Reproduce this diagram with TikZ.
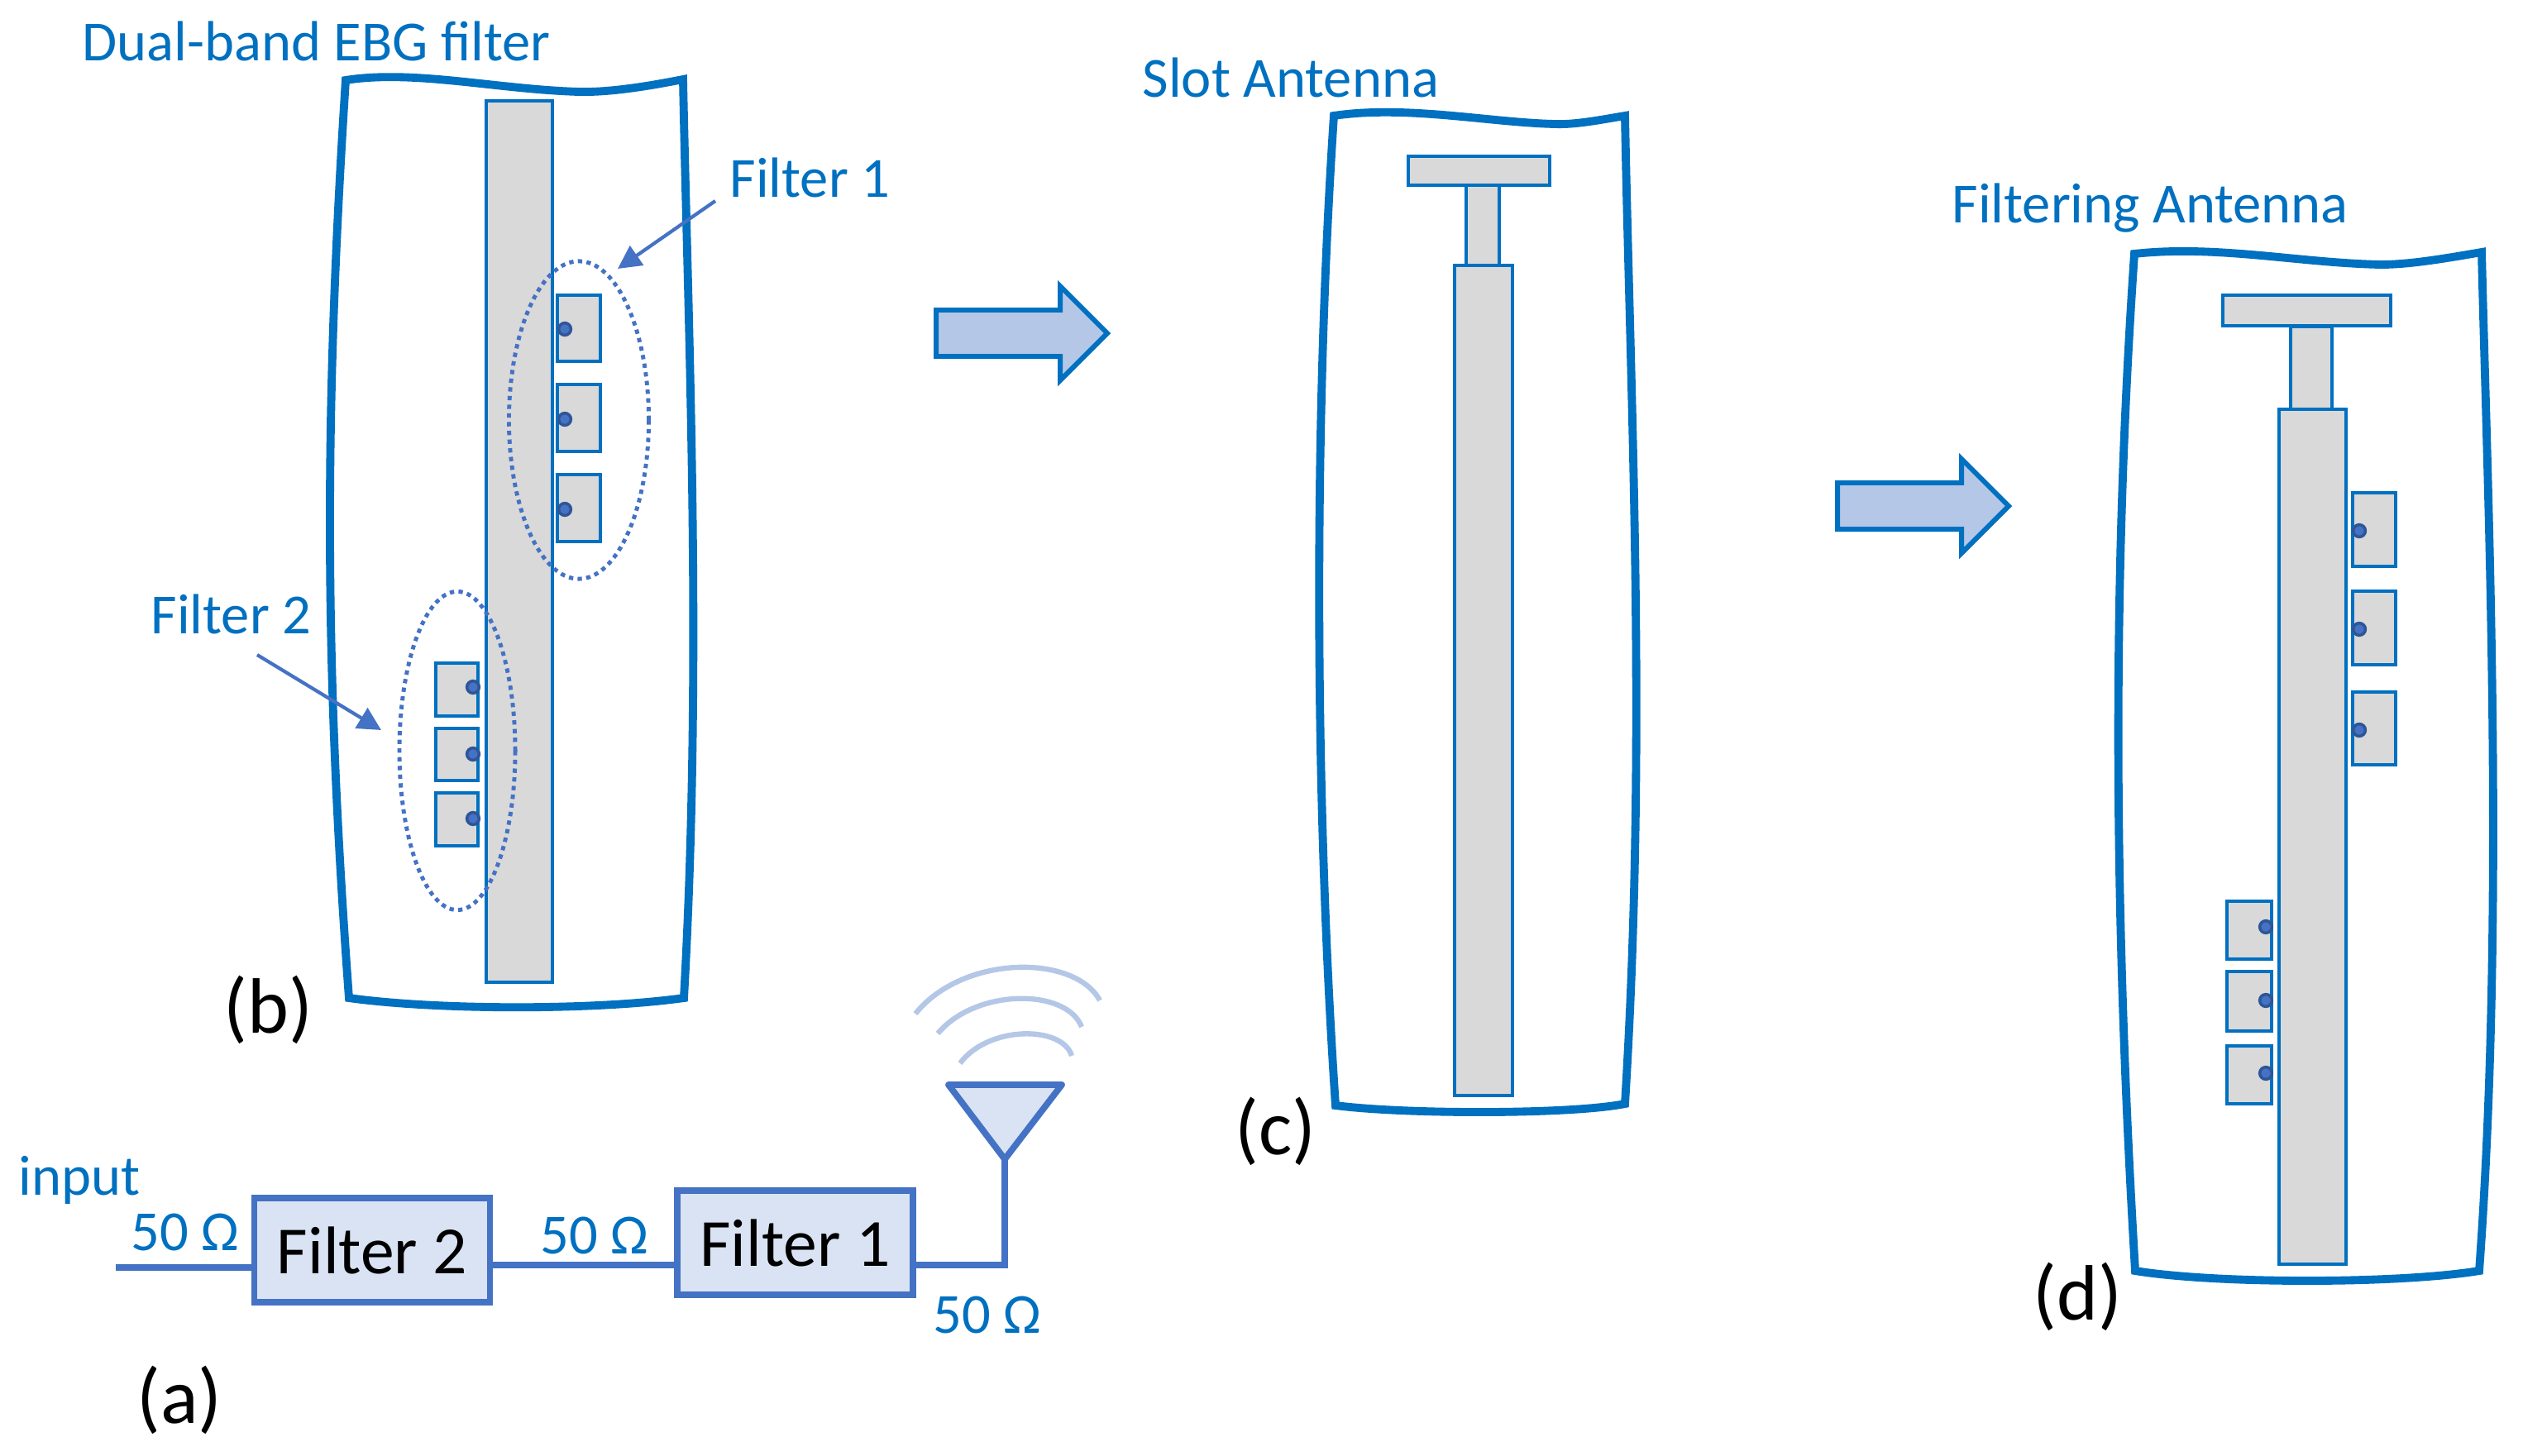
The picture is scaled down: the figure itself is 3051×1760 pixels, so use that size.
\documentclass[tikz,border=0pt]{standalone}
\usepackage{fontspec}
\setmainfont{Carlito}
\usetikzlibrary{arrows.meta,shapes.geometric,positioning}
\definecolor{edgeblue}{HTML}{0070C0}
\definecolor{wireblue}{HTML}{4472C4}
\definecolor{dotblue}{HTML}{2F5597}
\definecolor{boxfill}{HTML}{DAE3F3}
\definecolor{arrowfill}{HTML}{B4C7E7}
\definecolor{metal}{HTML}{D9D9D9}

\begin{document}
\begin{tikzpicture}[
    x=0.01cm, y=-0.01cm,
    board/.style={draw=edgeblue, line width=2.8pt, line join=miter},
    metalbox/.style={draw=edgeblue, fill=metal, line width=1.4pt},
    via/.style={circle, draw=dotblue, fill=wireblue, line width=1pt, inner sep=0pt, minimum size=4.2pt},
    ring/.style={draw=wireblue, ellipse, dash pattern=on 1.5pt off 1.5pt, line width=1.4pt, inner sep=0pt},
    callout/.style={-{Triangle[length=8pt,width=8pt]}, draw=wireblue, line width=1.2pt},
    bigarrow/.style={draw=edgeblue, fill=arrowfill, line width=1.7pt, miter limit=10},
    block/.style={draw=wireblue, fill=boxfill, line width=2.2pt, minimum width=2.85cm, minimum height=1.26cm, inner sep=0pt, font=\fontsize{23.2}{26}\selectfont},
    wire/.style={draw=wireblue, line width=2.5pt},
    wave/.style={draw=arrowfill, line width=1.8pt},
    lbl/.style={anchor=base west, inner sep=0pt, text=edgeblue, font=\fontsize{19.5}{22}\selectfont},
    tag/.style={anchor=base west, inner sep=0pt, font=\fontsize{27}{30}\selectfont}
]
\useasboundingbox (0,0) rectangle (3051,1760);

% (b) filter
\draw[board] (418,97) .. controls (500,84) and (600,108) .. (700,111) .. controls (740,112) and (790,103) .. (826,96)
    .. controls (832,400) and (850,800) .. (827,1207)
    .. controls (720,1222) and (530,1222) .. (422,1207)
    .. controls (392,800) and (392,500) .. (418,97) -- cycle;
\draw[metalbox] (588,122) rectangle (668,1188);
\foreach \ya/\yb/\yd in {357/437/398, 465/546/507, 574/655/616} {
    \draw[metalbox] (674,\ya) rectangle (726,\yb);
    \node[via] at (683,\yd) {};
}
\foreach \ya/\yb/\yd in {802/866/831, 881/944/912, 959/1023/990} {
    \draw[metalbox] (527,\ya) rectangle (578,\yb);
    \node[via] at (572,\yd) {};
}
\node[ring, minimum width=1.69cm, minimum height=3.84cm] (ringa) at (700,508) {};
\node[ring, minimum width=1.40cm, minimum height=3.85cm] (ringb) at (553,908) {};
\node[lbl] (title) at (99,73) {Dual-band EBG filter};
\node[lbl] (fa) at (882,238) {Filter 1};
\node[lbl] (fb) at (182,766) {Filter 2};
\coordinate (fatail) at (865,243);
\coordinate (fahead) at (747,325);
\coordinate (fbtail) at (311,792);
\coordinate (fbhead) at (461,883);
\draw[callout] (fatail) -- (fahead);
\draw[callout] (fbtail) -- (fbhead);
\node[tag] (tagb) at (270,1249) {(b)};

% arrows between the steps
\foreach \dx/\dy in {0/0, 1090/209} {
    \begin{scope}[shift={(\dx,\dy)}]
        \draw[bigarrow] (1132,375) -- (1282,375) -- (1282,346) -- (1339,403) -- (1282,460) -- (1282,431) -- (1132,431) -- cycle;
    \end{scope}
}

% (c) slot antenna
\draw[board] (1613,140) .. controls (1700,127) and (1800,148) .. (1880,150) .. controls (1905,151) and (1935,145) .. (1965,140)
    .. controls (1972,500) and (1992,900) .. (1965,1335)
    .. controls (1900,1348) and (1700,1348) .. (1615,1337)
    .. controls (1589,950) and (1589,500) .. (1613,140) -- cycle;
\draw[metalbox] (1773,224) rectangle (1813,323);
\draw[metalbox] (1703,189) rectangle (1874,224);
\draw[metalbox] (1759,321) rectangle (1829,1325);
\node[lbl] (slot) at (1381,117) {Slot Antenna};
\node[tag] (tagc) at (1493,1396) {(c)};

% (d) filtering antenna
\draw[board] (2581,307) .. controls (2680,296) and (2780,318) .. (2879,320) .. controls (2915,320) and (2960,312) .. (3001,305)
    .. controls (3008,600) and (3030,1100) .. (2998,1537)
    .. controls (2900,1553) and (2680,1553) .. (2582,1537)
    .. controls (2556,1100) and (2554,700) .. (2581,307) -- cycle;
\draw[metalbox] (2770,395) rectangle (2820,495);
\draw[metalbox] (2688,357) rectangle (2891,394);
\draw[metalbox] (2756,495) rectangle (2837,1529);
\foreach \ya/\yb/\yd in {596/685/642, 715/804/761, 837/925/883} {
    \draw[metalbox] (2845,\ya) rectangle (2897,\yb);
    \node[via] at (2853,\yd) {};
}
\foreach \ya/\yb/\yd in {1090/1160/1121, 1175/1247/1210, 1265/1335/1298} {
    \draw[metalbox] (2693,\ya) rectangle (2747,\yb);
    \node[via] at (2740,\yd) {};
}
\node[lbl] (filtant) at (2360,269) {Filtering Antenna};
\node[tag] (tagd) at (2458,1596) {(d)};

% (a) block diagram
\node[block] (filterb) at (450,1512) {Filter 2};
\node[block] (filtera) at (961.5,1503) {Filter 1};
\coordinate (inp) at (140,1533);
\coordinate (tip) at (1215,1402);
\coordinate (corner) at (1215,1530);
\draw[wire] (inp) -- (inp -| filterb.west);
\draw[wire] (filterb.east |- 0,1530) -- (filtera.west |- 0,1530);
\draw[wire, line join=miter] (filtera.east |- corner) -- (corner) -- (tip);
\draw[draw=wireblue, fill=boxfill, line width=2.2pt, line join=round] (1147,1312) -- (1284,1312) -- (tip) -- cycle;
\draw[wave] (1107,1226) .. controls (1165,1154) and (1300,1154) .. (1330,1210);
\draw[wave] (1134,1250) .. controls (1180,1195) and (1290,1195) .. (1308,1242);
\draw[wave] (1161,1286) .. controls (1195,1240) and (1285,1240) .. (1296,1277);
\node[lbl] (input) at (22,1445) {input};
\node[lbl] (za) at (158,1512) {50 Ω};
\node[lbl] (zb) at (653,1516) {50 Ω};
\node[lbl] (zc) at (1128,1612) {50 Ω};
\node[tag] (taga) at (165,1721) {(a)};
\end{tikzpicture}
\end{document}
